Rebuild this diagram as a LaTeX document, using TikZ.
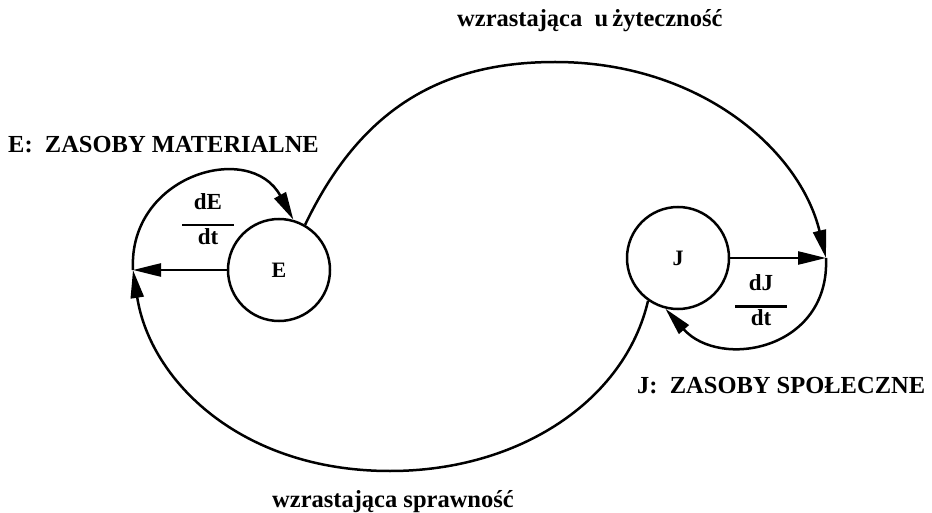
\documentclass[tikz,border=0pt]{standalone}
\usepackage{fontspec}
\setmainfont{Liberation Serif}
\usetikzlibrary{arrows.meta}
\newcommand{\ratio}[2]{\begin{tabular}{@{}c@{}}#1\\[-8pt]\rule{52pt}{2.4pt}\\[-7pt]#2\end{tabular}}
\tikzset{
  stock/.style={
    draw,
    circle,
    line width=2.5pt,
    minimum size=102pt,
    inner sep=0pt,
    font=\fontsize{22}{24}\selectfont\bfseries
  },
  caption/.style={
    anchor=base west,
    inner sep=0pt,
    font=\fontsize{24.5}{26}\selectfont\bfseries
  },
  rate/.style={
    inner sep=0pt,
    font=\fontsize{23}{25}\selectfont\bfseries
  },
  flowarrow/.style={-{Triangle[length=28pt,width=13pt]},line width=2.5pt}
}
\begin{document}
\begin{tikzpicture}[x=1pt,y=-1pt]
\useasboundingbox (0,0) rectangle (932,513);
\node[stock] (E) at (279,270) {E};
\node[stock] (J) at (678,258) {J};
\coordinate (P) at (133,270);
\coordinate (Q) at (826,258);
\node[caption] (capE) at (8,153) {E:\ \ ZASOBY\ MATERIALNE};
\node[caption] (capJ) at (637,393) {J:\ \ ZASOBY\ SPOŁECZNE};
\node[caption] (top) at (457,27) {wzrastająca\ \ u\,żyteczność};
\node[caption] (bot) at (272,507) {wzrastająca\ sprawność};
\node[rate] (dE) at (208,222) {\ratio{dE}{dt}};
\node[rate] (dJ) at (761,303) {\ratio{dJ}{dt}};
\draw[flowarrow] (E.west) -- (P);
\draw[flowarrow] (J.east) -- (Q);
\draw[flowarrow] (P) .. controls (128,175) and (250,140) .. (E.74);
\draw[flowarrow] (Q) .. controls (830,350) and (720,370) .. (J.256);
\draw[flowarrow] (E.60) .. controls (360,110) and (440,62) .. (555,62)
  .. controls (700,62) and (800,150) .. (Q);
\draw[flowarrow] (J.235) .. controls (625,400) and (520,471) .. (390,471)
  .. controls (240,471) and (150,380) .. (P);
\end{tikzpicture}
\end{document}
